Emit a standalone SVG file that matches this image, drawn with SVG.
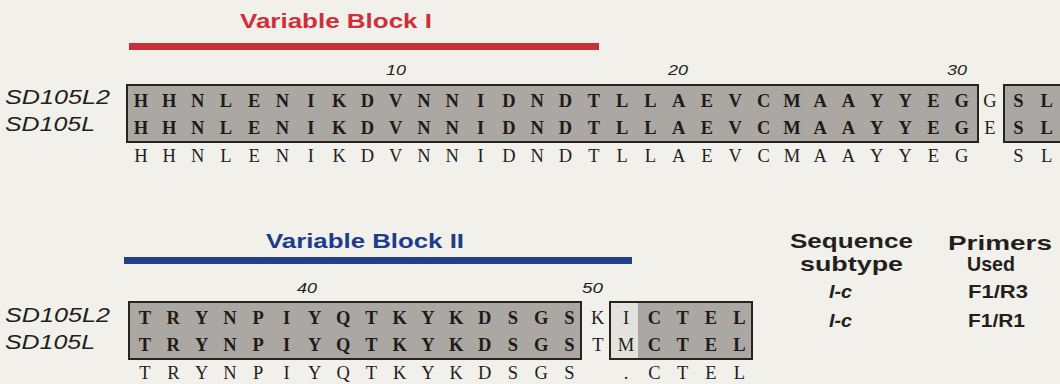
<svg xmlns="http://www.w3.org/2000/svg" width="1060" height="384" viewBox="0 0 1060 384">
<style>
.bg{fill:#f1f0eb}
.box{fill:#aba8a4;stroke:#28231f;stroke-width:2}
.lite{fill:#e4e2dd}
.seqb{font-family:"Liberation Serif",serif;font-weight:bold;font-size:18.5px;fill:#1f1b18;text-anchor:middle}
.seq{font-family:"Liberation Serif",serif;font-size:18.5px;fill:#221e1b;text-anchor:middle}
.lab{font-family:"Liberation Sans",Arial,sans-serif;font-style:italic;font-size:19.5px;fill:#231f1c}
.num{font-family:"Liberation Sans",Arial,sans-serif;font-style:italic;font-size:14.5px;fill:#231f1c}
.title{font-family:"Liberation Sans",Arial,sans-serif;font-weight:bold;font-size:21px}
.hdr{font-family:"Liberation Sans",Arial,sans-serif;font-weight:bold;font-size:20.5px;fill:#231f1c}
.val{font-family:"Liberation Sans",Arial,sans-serif;font-weight:bold;font-size:18.5px;fill:#231f1c}
</style>
<rect class="bg" x="0" y="0" width="1060" height="384"/>

<g id="block1">
  <text class="title" x="240" y="28" fill="#cf2f3a" textLength="192" lengthAdjust="spacingAndGlyphs">Variable Block I</text>
  <rect x="129" y="43" width="470" height="7" fill="#c8303a"/>
  <text class="num" x="386" y="75" textLength="20" lengthAdjust="spacingAndGlyphs">10</text>
  <text class="num" x="668" y="75" textLength="20" lengthAdjust="spacingAndGlyphs">20</text>
  <text class="num" x="947" y="75" textLength="20" lengthAdjust="spacingAndGlyphs">30</text>
  <text class="lab" x="5" y="104" textLength="105" lengthAdjust="spacingAndGlyphs">SD105L2</text>
  <text class="lab" x="5" y="131" textLength="90" lengthAdjust="spacingAndGlyphs">SD105L</text>
  <rect class="box" x="127" y="85" width="851" height="57"/>
  <rect class="box" x="1004" y="85" width="62" height="57"/>
  <text class="seqb" y="107" x="141 169.3 197.6 225.9 254.2 282.5 310.8 339.1 367.4 395.7 424 452.3 480.6 508.9 537.2 565.5 593.8 622.1 650.4 678.7 707 735.3 763.6 791.9 820.2 848.5 876.8 905.1 933.4 961.7">HHNLENIKDVNNIDNDTLLAEVCMAAYYEG</text>
  <text class="seqb" y="134" x="141 169.3 197.6 225.9 254.2 282.5 310.8 339.1 367.4 395.7 424 452.3 480.6 508.9 537.2 565.5 593.8 622.1 650.4 678.7 707 735.3 763.6 791.9 820.2 848.5 876.8 905.1 933.4 961.7">HHNLENIKDVNNIDNDTLLAEVCMAAYYEG</text>
  <text class="seq" y="107" x="990">G</text>
  <text class="seq" y="134" x="990">E</text>
  <text class="seqb" y="107" x="1018.3 1046.6">SL</text>
  <text class="seqb" y="134" x="1018.3 1046.6">SL</text>
  <text class="seq" y="162" x="141 169.3 197.6 225.9 254.2 282.5 310.8 339.1 367.4 395.7 424 452.3 480.6 508.9 537.2 565.5 593.8 622.1 650.4 678.7 707 735.3 763.6 791.9 820.2 848.5 876.8 905.1 933.4 961.7">HHNLENIKDVNNIDNDTLLAEVCMAAYYEG</text>
  <text class="seq" y="162" x="1018.3 1046.6">SL</text>
</g>

<g id="block2">
  <text class="title" x="266" y="248" fill="#1d3c8a" textLength="198" lengthAdjust="spacingAndGlyphs">Variable Block II</text>
  <rect x="124" y="257" width="508" height="7" fill="#1f3f86"/>
  <text class="num" x="297" y="293" textLength="20" lengthAdjust="spacingAndGlyphs">40</text>
  <text class="num" x="582" y="293" textLength="21" lengthAdjust="spacingAndGlyphs">50</text>
  <text class="lab" x="5" y="322" textLength="105" lengthAdjust="spacingAndGlyphs">SD105L2</text>
  <text class="lab" x="5" y="349" textLength="90" lengthAdjust="spacingAndGlyphs">SD105L</text>
  <rect class="box" x="129" y="302" width="452" height="57"/>
  <rect class="box" x="610" y="302" width="142" height="57"/>
  <rect class="lite" x="611" y="303" width="27" height="55"/>
  <text class="seqb" y="324" x="145 173.3 201.6 229.9 258.2 286.5 314.8 343.1 371.4 399.7 428 456.3 484.6 512.9 541.2 569.5">TRYNPIYQTKYKDSGS</text>
  <text class="seqb" y="351" x="145 173.3 201.6 229.9 258.2 286.5 314.8 343.1 371.4 399.7 428 456.3 484.6 512.9 541.2 569.5">TRYNPIYQTKYKDSGS</text>
  <text class="seq" y="324" x="597.8 626.1">KI</text>
  <text class="seq" y="351" x="597.8 626.1">TM</text>
  <text class="seqb" y="324" x="654.4 682.7 711 739.3">CTEL</text>
  <text class="seqb" y="351" x="654.4 682.7 711 739.3">CTEL</text>
  <text class="seq" y="379" x="145 173.3 201.6 229.9 258.2 286.5 314.8 343.1 371.4 399.7 428 456.3 484.6 512.9 541.2 569.5">TRYNPIYQTKYKDSGS</text>
  <text class="seq" y="379" x="626.1 654.4 682.7 711 739.3">.CTEL</text>
</g>

<g id="subtype">
  <text class="hdr" x="790" y="248" textLength="123" lengthAdjust="spacingAndGlyphs">Sequence</text>
  <text class="hdr" x="800" y="271" textLength="103" lengthAdjust="spacingAndGlyphs">subtype</text>
  <text class="val" x="829" y="298" font-style="italic" font-size="19.5" textLength="23" lengthAdjust="spacingAndGlyphs">I-c</text>
  <text class="val" x="829" y="327" font-style="italic" font-size="19.5" textLength="23" lengthAdjust="spacingAndGlyphs">I-c</text>
</g>

<g id="primers">
  <text class="hdr" x="948" y="250" textLength="104" lengthAdjust="spacingAndGlyphs">Primers</text>
  <text class="hdr" x="967" y="271" textLength="48" lengthAdjust="spacingAndGlyphs">Used</text>
  <text class="val" x="968" y="298" textLength="60" lengthAdjust="spacingAndGlyphs">F1/R3</text>
  <text class="val" x="968" y="327" textLength="57" lengthAdjust="spacingAndGlyphs">F1/R1</text>
</g>
</svg>
